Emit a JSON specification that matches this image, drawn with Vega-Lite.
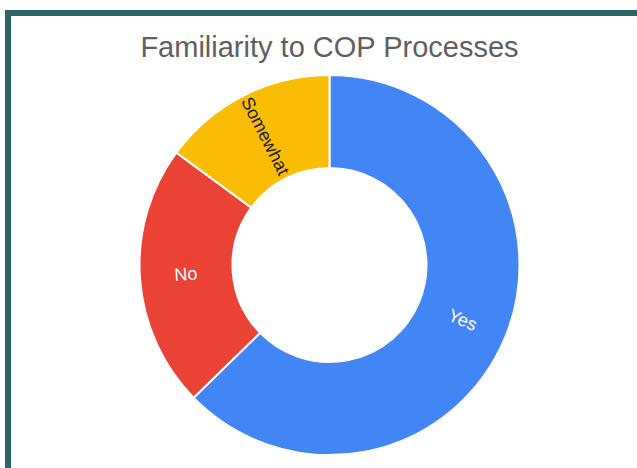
{
  "$schema": "https://vega.github.io/schema/vega-lite/v6.json",
  "autosize": "none",
  "padding": {"left": 8, "top": 13, "right": 0, "bottom": 0},
  "width": 643,
  "height": 504,
  "background": "white",
  "config": {
    "view": {"stroke": null},
    "font": "Liberation Sans"
  },
  "title": {
    "text": "Familiarity to COP Processes",
    "fontSize": 29,
    "font": "Liberation Sans",
    "fontWeight": "normal",
    "color": "#5f5f5f",
    "anchor": "middle",
    "baseline": "alphabetic",
    "offset": -45,
    "dy": 31
  },
  "data": {
    "values": [
      {"answer": "Yes", "n": 42},
      {"answer": "No", "n": 15},
      {"answer": "Somewhat", "n": 10}
    ]
  },
  "layer": [
    {
      "mark": {"type": "rect", "fill": null, "stroke": "#306466", "strokeWidth": 6}
    },
    {
      "mark": {"type": "arc", "outerRadius": 190, "innerRadius": 97, "stroke": "white", "strokeWidth": 2},
      "encoding": {
        "theta": {"field": "n", "type": "quantitative", "stack": true},
        "order": {"field": "n", "type": "quantitative", "sort": "descending"},
        "color": {
          "field": "answer",
          "type": "nominal",
          "scale": {"domain": ["Yes", "No", "Somewhat"], "range": ["#4285F4", "#EA4335", "#FBBC04"]},
          "legend": null
        }
      }
    },
    {
      "mark": {"type": "text", "radius": 144, "fontSize": 18, "font": "Liberation Sans", "align": "center", "baseline": "middle"},
      "encoding": {
        "theta": {"field": "n", "type": "quantitative", "stack": true},
        "order": {"field": "n", "type": "quantitative", "sort": "descending"},
        "text": {"field": "answer", "type": "nominal"},
        "angle": {
          "condition": [
            {"test": "datum.answer === 'Yes'", "value": 23},
            {"test": "datum.answer === 'Somewhat'", "value": 63}
          ],
          "value": -4
        },
        "color": {
          "condition": {"test": "datum.answer === 'Somewhat'", "value": "#1a1a1a"},
          "value": "white"
        }
      }
    }
  ]
}
